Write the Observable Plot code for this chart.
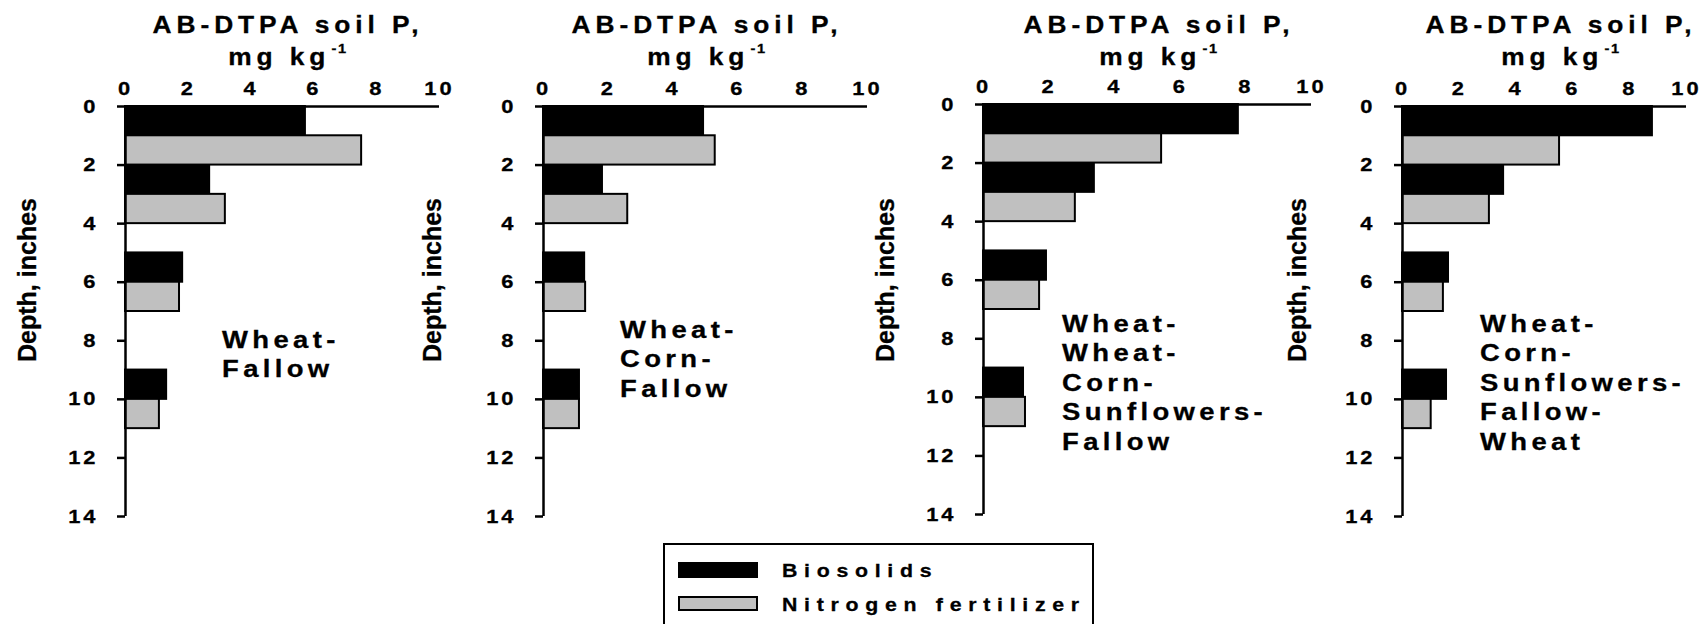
<!DOCTYPE html>
<html>
<head>
<meta charset="utf-8">
<script src="https://cdn.jsdelivr.net/npm/d3@7"></script>
<script src="https://cdn.jsdelivr.net/npm/@observablehq/plot@0.6"></script>
<style>
  html, body { margin: 0; padding: 0; background: #fff; overflow: hidden; }
  #wrap { position: relative; width: 1703px; height: 624px; overflow: hidden; font-family: "Liberation Sans", Arial, sans-serif; color: #000; -webkit-text-stroke: 0.3px #000; }
  #wrap svg { position: absolute; left: 0; top: 0; }
  #wrap svg text { font-family: "Liberation Sans", Arial, sans-serif; font-weight: bold; font-size: 19px; letter-spacing: 2.6px; fill: #000; stroke: #000; stroke-width: 0.3px; }
  .title { position: absolute; text-align: center; font-weight: bold; font-size: 23.5px; line-height: 32px; letter-spacing: 4.4px; white-space: nowrap; transform: scaleX(1.12); transform-origin: 50% 0; }
  .title sup { font-size: 13px; vertical-align: 0; position: relative; top: -12px; letter-spacing: 1.5px; margin-left: 1px; }
  .ylab { position: absolute; font-weight: bold; font-size: 25px; white-space: nowrap; transform: translate(-50%, -50%) rotate(-90deg); }
  .rot { position: absolute; font-weight: bold; font-size: 24.5px; line-height: 29.5px; letter-spacing: 3.9px; white-space: pre; transform: scaleX(1.12); transform-origin: 0 0; }
  #legend { position: absolute; left: 663px; top: 543px; width: 427px; height: 90px; border: 2px solid #000; box-sizing: content-box; }
  .sw { position: absolute; left: 13px; width: 80px; box-sizing: border-box; border: 2px solid #000; }
  .lt { position: absolute; left: 117px; font-weight: bold; font-size: 19px; letter-spacing: 6px; white-space: nowrap; line-height: 24px; transform: scaleX(1.12); transform-origin: 0 0; }
</style>
</head>
<body>
<div id="wrap"></div>
<script>
// ---- data ----
const seriesNames = ["Biosolids", "Nitrogen fertilizer"];
const seriesColors = ["#000000", "#c0c0c0"];
const bioTop = [0, 2, 5, 9];      // depth (in) of top of each Biosolids bar
const nfTop = [1, 3, 6, 10];      // depth (in) of top of each N fertilizer bar
const rotations = ["Wheat-\nFallow", "Wheat-\nCorn-\nFallow", "Wheat-\nWheat-\nCorn-\nSunflowers-\nFallow", "Wheat-\nCorn-\nSunflowers-\nFallow-\nWheat"];
const bioP = [
  [5.73, 2.68, 1.82, 1.31],
  [4.94, 1.82, 1.27, 1.11],
  [7.77, 3.38, 1.92, 1.22],
  [8.80, 3.56, 1.62, 1.55]
];
const nfP = [
  [7.52, 3.18, 1.72, 1.08],
  [5.30, 2.60, 1.30, 1.11],
  [5.43, 2.80, 1.71, 1.28],
  [5.53, 3.06, 1.44, 1.01]
];
const xTicks = [0, 2, 4, 6, 8, 10];
const yTicks = [0, 2, 4, 6, 8, 10, 12, 14];
const xTitle = "AB-DTPA soil P,";
const yTitle = "Depth, inches";

// ---- layout (pixels) ----
const W = 1703, H = 540, SX = 1.15;
const frames = [
  {x0: 125, x1: 439, y0: 106, y1: 516, tc: 288, yl: 27, rx: 222, rb: 348},
  {x0: 543, x1: 867, y0: 106, y1: 516, tc: 707, yl: 432, rx: 620, rb: 338},
  {x0: 983, x1: 1311, y0: 104, y1: 514, tc: 1159, yl: 885, rx: 1062, rb: 332},
  {x0: 1402, x1: 1686, y0: 106, y1: 516, tc: 1561, yl: 1297, rx: 1480, rb: 332}
];
const tickFont = {fontSize: 19, fontWeight: "bold", fontFamily: "Liberation Sans, Arial, sans-serif"};

const wrap = document.getElementById("wrap");

frames.forEach((f, p) => {
  const rows = [];
  bioTop.forEach((t, i) => rows.push({series: seriesNames[0], top: t, bottom: t + 1, start: 0, value: bioP[p][i]}));
  nfTop.forEach((t, i) => rows.push({series: seriesNames[1], top: t, bottom: t + 1, start: 0, value: nfP[p][i]}));

  const chart = Plot.plot({
    width: W, height: H,
    marginLeft: f.x0, marginRight: W - f.x1, marginTop: f.y0, marginBottom: H - f.y1,
    style: {background: "transparent", overflow: "visible"},
    x: {domain: [0, 10]},
    y: {domain: [0, 14], reverse: true},
    color: {domain: seriesNames, range: seriesColors},
    marks: [
      Plot.rectX(rows, {x1: "start", x2: "value", y1: "top", y2: "bottom", fill: "series", stroke: "#000", strokeWidth: 2}),
      Plot.ruleX([0], {stroke: "#000", strokeWidth: 2.5}),
      Plot.ruleY([0], {stroke: "#000", strokeWidth: 2.5}),
      Plot.axisX({anchor: "top", ticks: xTicks, tickSize: 0, tickPadding: 12, label: null, ...tickFont}),
      Plot.axisY({anchor: "left", ticks: yTicks, tickSize: 8, tickPadding: 19, strokeWidth: 2.5, label: null, ...tickFont})
    ]
  });
  // widen the tick labels horizontally, like the reference's stretched type
  d3.select(chart).selectAll("text").each(function () {
    const tr = this.getAttribute("transform");
    if (tr) {
      this.setAttribute("transform", tr + ` scale(${SX},1)`);
    } else {
      const x = +this.getAttribute("x") || 0;
      this.setAttribute("x", 0);
      this.setAttribute("transform", `translate(${x},0) scale(${SX},1)`);
    }
  });
  wrap.appendChild(chart);

  const t = document.createElement("div");
  t.className = "title";
  t.style.width = "320px";
  t.style.left = (f.tc - 160) + "px";
  t.style.top = "9px";
  t.innerHTML = xTitle + "<br>mg kg<sup>-1</sup>";
  wrap.appendChild(t);

  const yl = document.createElement("div");
  yl.className = "ylab";
  yl.style.left = f.yl + "px";
  yl.style.top = "280px";
  yl.textContent = yTitle;
  wrap.appendChild(yl);

  const r = document.createElement("div");
  r.className = "rot";
  r.style.left = f.rx + "px";
  r.style.top = (f.rb - 23.2) + "px";
  r.textContent = rotations[p];
  wrap.appendChild(r);
});

// legend
const lg = document.createElement("div");
lg.id = "legend";
seriesNames.forEach((name, i) => {
  const sw = document.createElement("div");
  sw.className = "sw";
  sw.style.background = seriesColors[i];
  sw.style.top = (i === 0 ? 17 : 51) + "px";
  sw.style.height = (i === 0 ? 16 : 15) + "px";
  lg.appendChild(sw);
  const lt = document.createElement("div");
  lt.className = "lt";
  lt.style.top = (i === 0 ? 14 : 48) + "px";
  lt.textContent = name;
  lg.appendChild(lt);
});
wrap.appendChild(lg);
</script>
</body>
</html>
